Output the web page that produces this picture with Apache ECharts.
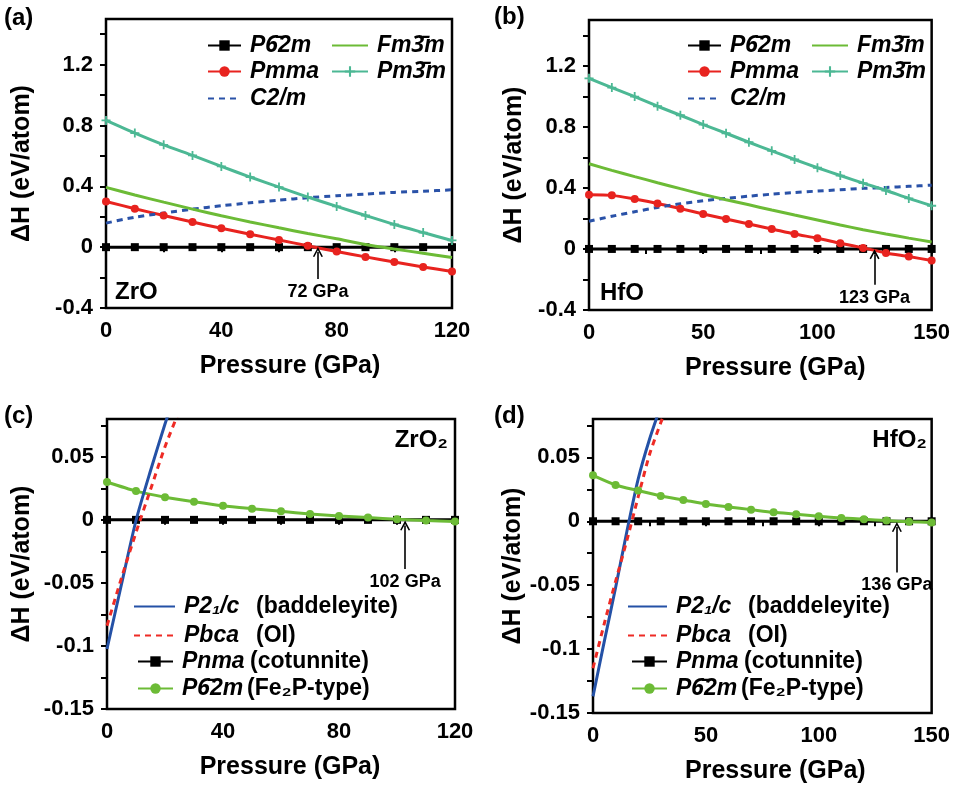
<!DOCTYPE html>
<html><head><meta charset="utf-8">
<script src="https://cdn.jsdelivr.net/npm/echarts@6/dist/echarts.min.js"></script>
<style>html,body{margin:0;padding:0;background:#fff}#c{width:953px;height:786px}</style>
</head><body><div id="c"></div>
<script>
// ---------------- DATA ----------------
// (a) ZrO
const pA = [0,10,20,30,40,50,60,70,80,90,100,110,120];
const a_P62m = [0,0,0,0,0,0,0,0,0,0,0,0,0];
const a_Pmma = [0.300,0.253,0.208,0.165,0.124,0.085,0.047,0.009,-0.029,-0.064,-0.098,-0.130,-0.160];
const a_C2m  = [0.158,0.197,0.224,0.250,0.272,0.292,0.309,0.325,0.338,0.349,0.360,0.368,0.377];
const a_Fm3m = [0.393,0.343,0.296,0.250,0.206,0.166,0.127,0.090,0.055,0.018,-0.012,-0.040,-0.068];
const a_Pm3m = [0.833,0.750,0.673,0.603,0.531,0.461,0.395,0.329,0.268,0.208,0.149,0.096,0.044];
// (b) HfO
const pB = [0,10,20,30,40,50,60,70,80,90,100,110,120,130,140,150];
const b_P62m = [0,0,0,0,0,0,0,0,0,0,0,0,0,0,0,0];
const b_Pmma = [0.355,0.351,0.327,0.298,0.264,0.229,0.196,0.163,0.131,0.098,0.070,0.037,0.007,-0.026,-0.050,-0.076];
const b_C2m  = [0.181,0.214,0.244,0.272,0.296,0.316,0.331,0.346,0.359,0.370,0.379,0.388,0.397,0.403,0.410,0.418];
const b_Fm3m = [0.558,0.515,0.474,0.434,0.395,0.357,0.322,0.289,0.255,0.222,0.190,0.157,0.126,0.098,0.071,0.046];
const b_Pm3m = [1.118,1.057,0.998,0.935,0.876,0.815,0.758,0.699,0.643,0.586,0.532,0.481,0.431,0.383,0.331,0.283];
// (c) ZrO2
const pC = [0,10,20,30,40,50,60,70,80,90,100,110,120];
const c_Pnma = [0,0,0,0,0,0,0,0,0,0,0,0,0];
const c_P62m = [0.0300,0.0228,0.0180,0.0144,0.0112,0.0089,0.0068,0.0047,0.0031,0.0018,0.0004,-0.0005,-0.0012];
const c_P21c_x = [0,5,10,15,20,25];
const c_P21c = [-0.1024,-0.0510,-0.0005,0.039,0.076,0.110];
const c_Pbca_x = [0,5,10,15,20,25];
const c_Pbca = [-0.084,-0.046,-0.010,0.024,0.058,0.087];
// (d) HfO2
const pD = [0,10,20,30,40,50,60,70,80,90,100,110,120,130,140,150];
const d_Pnma = [0,0,0,0,0,0,0,0,0,0,0,0,0,0,0,0];
const d_P62m = [0.0359,0.0284,0.0240,0.0198,0.0167,0.0135,0.0112,0.0091,0.0070,0.0055,0.0039,0.0026,0.0016,0.0005,-0.0003,-0.0010];
const d_P21c_x = [0,5,10,15,20,25,30];
const d_P21c = [-0.137,-0.094,-0.052,-0.008,0.033,0.064,0.090];
const d_Pbca_x = [0,5,10,15,20,25,30,35];
const d_Pbca = [-0.115,-0.080,-0.047,-0.015,0.019,0.052,0.077,0.100];

// transition annotations: [arrow x, tail y, head y, label]
const arrowA = [73.5, -0.21, -0.032, '72 GPa'];
const arrowB = [125, -0.235, -0.034, '123 GPa'];
const arrowC = [102.8, -0.039, -0.0045, '102 GPa'];
const arrowD = [134.6, -0.040, -0.0045, '136 GPa'];

// axis ticks / labels
const xTicksA = [0,20,40,60,80,100,120], xLabelsA = [0,40,80,120];
const xTicksB = [0,25,50,75,100,125,150], xLabelsB = [0,50,100,150];
const yTicksAB = [-0.4,-0.2,0,0.2,0.4,0.6,0.8,1.0,1.2,1.4], yLabelsAB = [-0.4,0,0.4,0.8,1.2];
const yTicksCD = [-0.15,-0.125,-0.1,-0.075,-0.05,-0.025,0,0.025,0.05,0.075], yLabelsCD = [-0.15,-0.1,-0.05,0,0.05];

// ---------------- CHART ----------------
const FONT = "'Liberation Sans', Arial, sans-serif";
const zip = (xs, ys) => xs.map((x, i) => [x, ys[i]]);
const fmt = v => (Math.abs(v) < 1e-9 ? '0' : String(+v.toFixed(3)));
const PLUS = 'path://M4,0h2v4h4v2h-4v4h-2v-4h-4v-2h4z';
const HEAD = 'path://M0,9 L5,0 L10,9 L8.6,9.6 L5,3.2 L1.4,9.6 Z';

const COL = {black:'#000000', red:'#e8231f', green:'#6cbb36', teal:'#4cb894', blue:'#2a52a8',
             blue2:'#2451a6', red2:'#ee2b25'};

const grids = [
  {left:106, top:19, width:346, height:289},
  {left:589, top:20, width:344, height:290},
  {left:107, top:419, width:348, height:290},
  {left:593, top:419, width:341, height:294}
];

const xCfg = [
  {min:0,max:120,ticks:xTicksA,labels:xLabelsA,pad:22},
  {min:0,max:150,ticks:xTicksB,labels:xLabelsB,pad:30},
  {min:0,max:120,ticks:xTicksA,labels:xLabelsA,pad:18},
  {min:0,max:150,ticks:xTicksB,labels:xLabelsB,pad:26}
];
const yCfg = [
  {min:-0.4,max:1.5,ticks:yTicksAB,labels:yLabelsAB,gap:71},
  {min:-0.4,max:1.5,ticks:yTicksAB,labels:yLabelsAB,gap:62},
  {min:-0.15,max:0.08,ticks:yTicksCD,labels:yLabelsCD,gap:72},
  {min:-0.15,max:0.08,ticks:yTicksCD,labels:yLabelsCD,gap:65}
];

const xAxis = xCfg.map((c, i) => ({
  type:'value', gridIndex:i, min:c.min, max:c.max,
  name:'Pressure (GPa)', nameLocation:'middle', nameGap:46,
  nameTextStyle:{fontFamily:FONT, fontWeight:'bold', fontSize:25, color:'#000', padding:[0,0,0,c.pad]},
  axisLine:{show:false}, splitLine:{show:false},
  axisTick:{show:true, inside:false, length:5, customValues:c.ticks, lineStyle:{color:'#000', width:2}},
  axisLabel:{customValues:c.labels, margin:12, fontFamily:FONT, fontWeight:'bold', fontSize:22, color:'#000', formatter:fmt}
}));
const yAxis = yCfg.map((c, i) => ({
  type:'value', gridIndex:i, min:c.min, max:c.max,
  name:'\u0394H (eV/atom)', nameLocation:'middle', nameGap:c.gap,
  nameTextStyle:{fontFamily:FONT, fontWeight:'bold', fontSize:25, color:'#000'},
  axisLine:{show:false}, splitLine:{show:false},
  axisTick:{show:true, inside:false, length:6, customValues:c.ticks, lineStyle:{color:'#000', width:2}},
  axisLabel:{customValues:c.labels, margin:13, fontFamily:FONT, fontWeight:'bold', fontSize:22, color:'#000', formatter:fmt}
}));

function arrowMark(a) {
  return {
    silent:true, symbol:['none', HEAD], symbolSize:10, animation:false,
    lineStyle:{color:'#000', width:1.6, type:'solid'},
    label:{show:true, position:'start', distance:4, formatter:a[3], color:'#000',
           fontFamily:FONT, fontWeight:'bold', fontSize:18},
    data:[[{coord:[a[0], a[1]]}, {coord:[a[0], a[2]]}]]
  };
}

function line(name, gi, data, color, opts) {
  return Object.assign({
    name, type:'line', xAxisIndex:gi, yAxisIndex:gi, data, clip:true,
    smooth:0.25,
    lineStyle:{color, width:3}, itemStyle:{color},
    symbol:'none', showSymbol:false, z:3
  }, opts || {});
}
const sq = {symbol:'rect', symbolSize:8, showSymbol:true, smooth:false, z:2};
const circ = {symbol:'circle', symbolSize:8, showSymbol:true};
const plus = {symbol:PLUS, symbolSize:9, showSymbol:true};

const series = [
  // (a)
  line('a_P62m', 0, zip(pA, a_P62m), COL.black, Object.assign({markLine:arrowMark(arrowA)}, sq)),
  line('a_Pmma', 0, zip(pA, a_Pmma), COL.red, circ),
  line('a_C2m', 0, zip(pA, a_C2m), COL.blue, {lineStyle:{color:COL.blue, width:3, type:[6,5]}}),
  line('a_Fm3m', 0, zip(pA, a_Fm3m), COL.green),
  line('a_Pm3m', 0, zip(pA, a_Pm3m), COL.teal, plus),
  // (b)
  line('b_P62m', 1, zip(pB, b_P62m), COL.black, Object.assign({markLine:arrowMark(arrowB)}, sq)),
  line('b_Pmma', 1, zip(pB, b_Pmma), COL.red, circ),
  line('b_C2m', 1, zip(pB, b_C2m), COL.blue, {lineStyle:{color:COL.blue, width:3, type:[6,5]}}),
  line('b_Fm3m', 1, zip(pB, b_Fm3m), COL.green),
  line('b_Pm3m', 1, zip(pB, b_Pm3m), COL.teal, plus),
  // (c)
  line('c_Pnma', 2, zip(pC, c_Pnma), COL.black, Object.assign({markLine:arrowMark(arrowC)}, sq)),
  line('c_P62m', 2, zip(pC, c_P62m), COL.green, circ),
  line('c_P21c', 2, zip(c_P21c_x, c_P21c), COL.blue2),
  line('c_Pbca', 2, zip(c_Pbca_x, c_Pbca), COL.red2, {lineStyle:{color:COL.red2, width:3, type:[6,5]}}),
  // (d)
  line('d_Pnma', 3, zip(pD, d_Pnma), COL.black, Object.assign({markLine:arrowMark(arrowD)}, sq)),
  line('d_P62m', 3, zip(pD, d_P62m), COL.green, circ),
  line('d_P21c', 3, zip(d_P21c_x, d_P21c), COL.blue2),
  line('d_Pbca', 3, zip(d_Pbca_x, d_Pbca), COL.red2, {lineStyle:{color:COL.red2, width:3, type:[6,5]}})
];

const LEG = {
  P62m:'{i|P}{o|6\u0304}{i|2m}', Pmma:'{i|Pmma}', C2m:'{i|C2/m}',
  Fm3m:'{i|Fm}{o|3\u0304}{i|m}', Pm3m:'{i|Pm}{o|3\u0304}{i|m}',
  P21c:'{w1|P2\u2081/c}{n|(baddeleyite)}', Pbca:'{w1|Pbca}{n|(OI)}',
  Pnma:'{w2|Pnma}{n|(cotunnite)}', P62mFe:'{i|P}{o|6\u0304}{w3|2m}{n|(Fe\u2082P-type)}'
};
function legendText(name) {
  const [p, k] = name.split('_');
  if ((p === 'c' || p === 'd') && k === 'P62m') return LEG.P62mFe;
  return LEG[k];
}
const base = {fontFamily:FONT, fontWeight:'bold', fontStyle:'italic', fontSize:23, color:'#000', lineHeight:26};
const rich = {
  i:base,
  w1:Object.assign({}, base, {width:72}),
  w2:Object.assign({}, base, {width:68}),
  w3:Object.assign({}, base, {width:37}),
  o:Object.assign({}, base, {fontFamily:"'Noto Sans'"}),
  n:Object.assign({}, base, {fontStyle:'normal'})
};
// legend item placement: [series name, symbol left, row center y, icon width, has marker]
const legendItems = [
  ['a_P62m',207,47,33,1],['a_Pmma',207,73,33,1],['a_C2m',207,100,33,0],['a_Fm3m',331,47,36,0],['a_Pm3m',331,73,36,1],
  ['b_P62m',687,47,33,1],['b_Pmma',687,73,33,1],['b_C2m',687,100,33,0],['b_Fm3m',811,47,36,0],['b_Pm3m',811,73,36,1],
  ['c_P21c',133,608,41,0],['c_Pbca',133,637,41,0],['c_Pnma',137,663,35,1],['c_P62m',137,690,35,1],
  ['d_P21c',627,608,39,0],['d_Pbca',627,637,39,0],['d_Pnma',631,663,35,1],['d_P62m',631,690,35,1]
];
const legend = legendItems.map(([nm, l, cy, w, mk]) => Object.assign({
  data:[nm], left:l, top:cy - 13, padding:0, itemWidth:w, itemHeight:13, selectedMode:false,
  formatter: legendText, textStyle:{rich, padding:[0,0,0,4]}
}, mk ? {} : {itemStyle:{color:'rgba(0,0,0,0)', borderWidth:0, borderColor:'rgba(0,0,0,0)'}}));

const titleStyle = {fontFamily:FONT, fontWeight:'bold', fontSize:24, color:'#000'};
const title = [
  {text:'(a)', left:4, top:6, padding:0, textStyle:titleStyle},
  {text:'(b)', left:494, top:5, padding:0, textStyle:titleStyle},
  {text:'(c)', left:4, top:404, padding:0, textStyle:titleStyle},
  {text:'(d)', left:494, top:404, padding:0, textStyle:titleStyle},
  {text:'ZrO', left:115, top:280, padding:0, textStyle:titleStyle},
  {text:'HfO', left:600, top:281, padding:0, textStyle:titleStyle},
  {text:'ZrO\u2082', right:505, top:428, padding:0, textStyle:titleStyle},
  {text:'HfO\u2082', right:26, top:428, padding:0, textStyle:titleStyle}
];

const chart = echarts.init(document.getElementById('c'), null, {renderer:'canvas'});
chart.setOption({
  animation:false,
  backgroundColor:'#fff',
  title, legend,
  grid: grids.map(g => Object.assign({show:true, borderColor:'#000', borderWidth:2.5, backgroundColor:'transparent'}, g)),
  xAxis, yAxis, series
});
</script></body></html>
